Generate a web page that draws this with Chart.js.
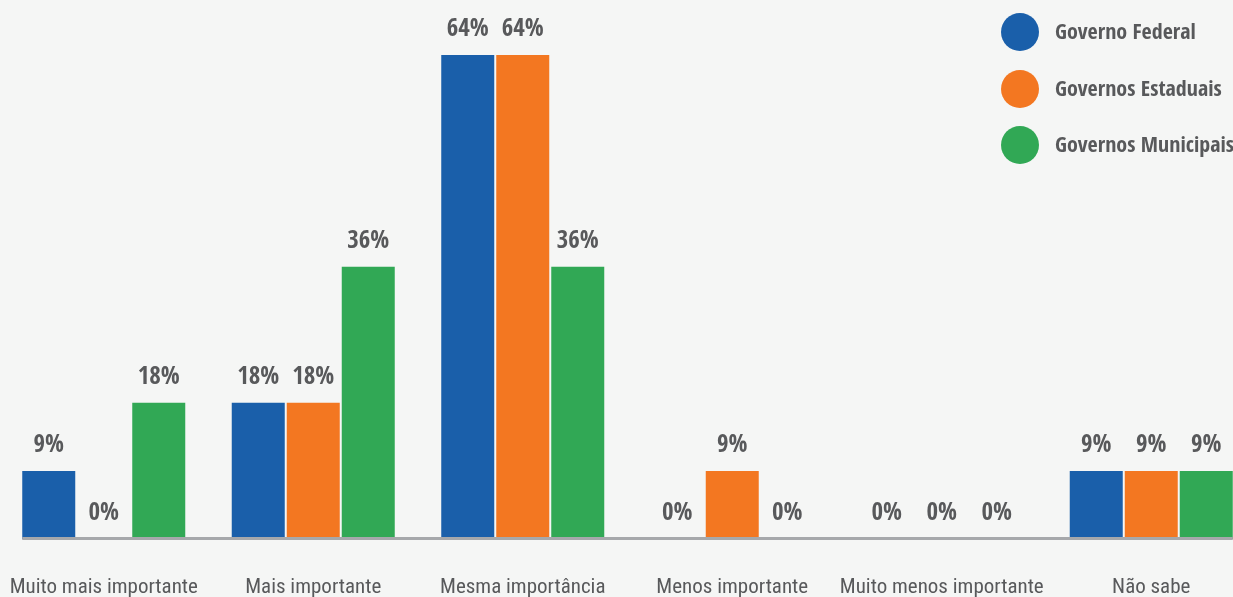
<!DOCTYPE html>
<html>
<head>
<meta charset="utf-8">
<script src="https://cdn.jsdelivr.net/npm/chart.js@4/dist/chart.umd.min.js"></script>
<style>
  html, body { margin: 0; padding: 0; background: #f5f6f5; overflow: hidden; width: 1233px; height: 597px; }
  #wrap { position: absolute; left: -1px; top: 0; width: 1257px; height: 597px; }
  #legend { position: absolute; left: 1001px; top: 13px; font-family: 'Open Sans Condensed', 'Roboto Condensed', sans-serif; font-weight: bold; font-size: 22px; color: #58595b; }
  .item { display: flex; align-items: center; height: 38px; margin-bottom: 18.5px; white-space: nowrap; }
  .item span:last-child { position: relative; top: -2px; }
  .dot { width: 38px; height: 38px; border-radius: 50%; margin-right: 16px; flex: none; }
</style>
</head>
<body>
<div id="wrap"><canvas id="c"></canvas></div>
<div id="legend"></div>
<script>
const categories = ["Muito mais importante", "Mais importante", "Mesma importância", "Menos importante", "Muito menos importante", "Não sabe"];
const seriesNames = ["Governo Federal", "Governos Estaduais", "Governos Municipais"];
const federal = [9, 18, 64, 0, 0, 9];
const estaduais = [0, 18, 64, 9, 0, 9];
const municipais = [18, 36, 36, 0, 0, 9];
const colors = ["#1a5faa", "#f37721", "#31a855"];

const textGray = "#58595b";
const boldFont = "'Open Sans Condensed', 'Roboto Condensed', sans-serif";
const regFont = "'Roboto Condensed', sans-serif";

const valueLabels = {
  id: 'valueLabels',
  afterDatasetsDraw(chart) {
    const ctx = chart.ctx;
    ctx.save();
    ctx.font = "bold 25px " + boldFont;
    ctx.fillStyle = textGray;
    ctx.textAlign = "center";
    ctx.textBaseline = "alphabetic";
    chart.data.datasets.forEach((ds, i) => {
      const meta = chart.getDatasetMeta(i);
      meta.data.forEach((bar, j) => {
        ctx.fillText(ds.data[j] + "%", bar.x, bar.y - 19);
      });
    });
    ctx.restore();
  }
};

const baseLine = {
  id: 'baseLine',
  afterDatasetsDraw(chart) {
    const ctx = chart.ctx;
    const first = chart.getDatasetMeta(0).data[0];
    const lastMeta = chart.getDatasetMeta(chart.data.datasets.length - 1);
    const last = lastMeta.data[lastMeta.data.length - 1];
    const y = chart.scales.y.getPixelForValue(0);
    ctx.save();
    ctx.fillStyle = "#a6a8ab";
    const x0 = first.x - first.width / 2;
    const x1 = last.x + last.width / 2;
    ctx.fillRect(x0, y - 2, x1 - x0, 3);
    ctx.restore();
  }
};

const chart = new Chart(document.getElementById('c'), {
  type: 'bar',
  data: {
    labels: categories,
    datasets: [
      { label: seriesNames[0], data: federal, backgroundColor: colors[0] },
      { label: seriesNames[1], data: estaduais, backgroundColor: colors[1] },
      { label: seriesNames[2], data: municipais, backgroundColor: colors[2] }
    ]
  },
  options: {
    responsive: true,
    maintainAspectRatio: false,
    animation: false,
    layout: { padding: 0 },
    categoryPercentage: 0.7876,
    barPercentage: 0.9636,
    plugins: { legend: { display: false }, tooltip: { enabled: false } },
    scales: {
      x: {
        grid: { display: false, drawTicks: false },
        border: { display: false },
        ticks: { color: textGray, font: { family: regFont, size: 21 }, padding: 36, maxRotation: 0, autoSkip: false },
        afterFit(scale) { scale.height = 58; scale.paddingLeft = 0; scale.paddingRight = 0; }
      },
      y: { display: false, min: 0, max: 71.27 }
    }
  },
  plugins: [valueLabels, baseLine]
});

const legend = document.getElementById('legend');
chart.data.datasets.forEach(ds => {
  const it = document.createElement('div');
  it.className = 'item';
  const d = document.createElement('span');
  d.className = 'dot';
  d.style.background = ds.backgroundColor;
  const t = document.createElement('span');
  t.textContent = ds.label;
  it.appendChild(d); it.appendChild(t);
  legend.appendChild(it);
});
</script>
</body>
</html>
